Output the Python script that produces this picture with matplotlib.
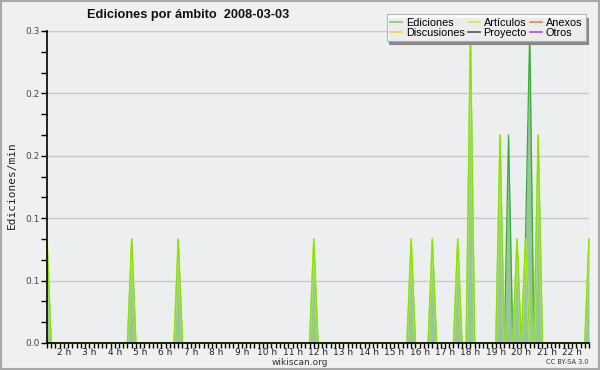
import numpy as np
import matplotlib
matplotlib.use("Agg")
import matplotlib.pyplot as plt
from matplotlib.patches import Rectangle

# ---- data (10-minute bins, edits per minute) ----
start_time = "01:20"
end_time = "22:40"
bin_minutes = 10
# nonzero bins
edit_times = ["01:20", "04:40", "06:30", "11:50", "15:40", "16:30", "17:30",
              "18:00", "19:10", "19:30", "19:50", "20:10", "20:20", "20:40", "22:40"]
ediciones_vals = [0.1, 0.1, 0.1, 0.1, 0.1, 0.1, 0.1,
                  0.3, 0.2, 0.2, 0.1, 0.1, 0.3, 0.2, 0.1]
articulos_vals = [0.1, 0.1, 0.1, 0.1, 0.1, 0.1, 0.1,
                  0.3, 0.2, 0.0, 0.1, 0.1, 0.0, 0.2, 0.1]
hour_labels = [f"{h} h" for h in range(2, 23)]
y_ticks = [0.0, 0.06, 0.12, 0.18, 0.24, 0.3]

legend_names = ["Ediciones", "Discusiones", "Artículos", "Proyecto", "Anexos", "Otros"]
legend_colors = ["#7ccc7c", "#f2d04a", "#c8f04a", "#555555", "#f08050", "#9a50e8"]


def to_hours(t):
    h, m = t.split(":")
    return int(h) + int(m) / 60.0


t0, t1 = to_hours(start_time), to_hours(end_time)
n = int(round((t1 - t0) * 60 / bin_minutes)) + 1
x = t0 + np.arange(n) * bin_minutes / 60.0
ediciones = np.zeros(n)
articulos = np.zeros(n)
for t, e, a in zip(edit_times, ediciones_vals, articulos_vals):
    i = int(round((to_hours(t) - t0) * 60 / bin_minutes))
    ediciones[i] = e
    articulos[i] = a
zeros = np.zeros(n)

fig = plt.figure(figsize=(6, 3.7), dpi=100)
fig.patch.set_facecolor("#f0f0f0")
ax = fig.add_axes([47 / 600, 1 - 343 / 370, 542 / 600, 312 / 370])
ax.set_facecolor("#edeef0")

# grid
for yt in y_ticks[1:]:
    ax.axhline(yt, color="#c8c8c8", lw=1, zorder=0.3)

# zero series (other namespaces)
for name, col in zip(legend_names, legend_colors):
    if name in ("Discusiones", "Proyecto", "Anexos", "Otros"):
        ax.plot(x, zeros, color=col, lw=1, zorder=0.4)

ax.fill_between(x, ediciones, 0, color="#96c896", lw=0, zorder=1)
ax.plot(x, ediciones, color="#3aaa3a", lw=0.9, zorder=2, clip_on=False)
ax.plot(x, articulos, color="#d4ff66", lw=1.6, alpha=0.6, zorder=3, clip_on=False)
ax.plot(x, articulos, color="#8ee000", lw=0.8, zorder=3.1, clip_on=False)

ax.set_xlim(t0, t1)
ax.set_ylim(0, 0.3)
for s in ("top", "right"):
    ax.spines[s].set_visible(False)
for s in ("left", "bottom"):
    ax.spines[s].set_color("black")
    ax.spines[s].set_linewidth(1.2)
    ax.spines[s].set_zorder(5)

ax.set_yticks(y_ticks)
ax.set_yticklabels([f"{v:.1f}" for v in y_ticks])
ax.set_yticks(np.arange(0, 0.3001, 0.02), minor=True)
ax.set_xticks(np.arange(2, 23))
ax.set_xticklabels(hour_labels)
ax.set_xticks(x, minor=True)
ax.tick_params(axis="y", which="both", direction="out", length=4, width=1,
               labelsize=6.5, colors="black", labelcolor="#444444", pad=1)
ax.tick_params(axis="x", which="both", direction="out", length=3.5, width=1,
               labelsize=6.5, colors="black", labelcolor="#222222", pad=0)

handles = []
for name, col in zip(legend_names, legend_colors):
    (h,) = ax.plot([], [], color=col, lw=1.2)
    handles.append(h)
leg = ax.legend(handles, legend_names, ncol=3, loc="upper right",
                bbox_to_anchor=(591 / 600, 1 - 9 / 370), bbox_transform=fig.transFigure,
                prop={"family": "Liberation Sans", "size": 7.8},
                handlelength=1.1, handletextpad=0.35, columnspacing=0.3,
                labelspacing=0.0, borderpad=0.3, fancybox=False, framealpha=0.85,
                edgecolor="#aaaaaa",
                shadow={"color": "#888888", "alpha": 1, "ox": 1.5, "oy": -2.5})
leg.set_zorder(10)
leg.get_frame().set_linewidth(0.8)

fig.text(188 / 600, 1 - 15 / 370, "Ediciones por ámbito  2008-03-03",
         ha="center", va="center", fontsize=9.2, fontweight="bold",
         family="Liberation Sans", color="#111111")
fig.text(12 / 600, 1 - 185 / 370, "Ediciones/min", rotation=90, ha="center", va="center",
         fontsize=8, family="DejaVu Sans Mono", color="#222222")
fig.text(300 / 600, 1 - 362.5 / 370, "wikiscan.org", ha="center", va="center",
         fontsize=6.5, color="#333333")
fig.text(589 / 600, 1 - 362.5 / 370, "CC BY-SA 3.0", ha="right", va="center",
         fontsize=4.8, color="#333333")

fig.patches.append(Rectangle((0.001, 0.002), 0.997, 0.995, transform=fig.transFigure,
                             fill=False, edgecolor="#a8a8a8", lw=1.5))

fig.savefig("out.png", dpi=100, facecolor=fig.get_facecolor())
